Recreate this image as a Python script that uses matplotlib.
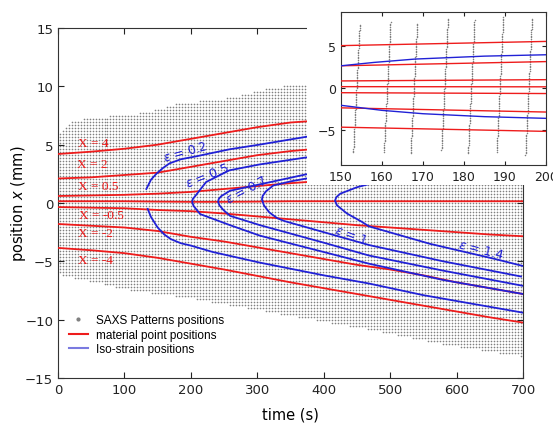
import numpy as np
import matplotlib
matplotlib.use("Agg")
import matplotlib.pyplot as plt
from matplotlib.patches import Rectangle
from matplotlib.lines import Line2D

# --- data ---
t_knots = [0, 50, 100, 150, 200, 250, 300, 350, 400, 450, 500, 550, 600, 650, 700]

# material point positions (mm) at t_knots
X_labels = ["4", "2", "0.5", "-0.5", "-2", "-4"]
X_4 = [4.2, 4.4, 4.65, 5.0, 5.5, 6.0, 6.5, 6.9, 7.1, 7.4, 7.7, 8.0, 8.3, 8.6, 8.9]
X_2 = [2.1, 2.2, 2.4, 2.6, 3.1, 3.6, 4.1, 4.45, 4.7, 5.0, 5.3, 5.5, 5.8, 6.0, 6.3]
X_05 = [0.6, 0.65, 0.7, 0.8, 0.95, 1.2, 1.45, 1.7, 1.9, 2.1, 2.3, 2.45, 2.6, 2.75, 2.9]
X_0 = [0.15, 0.15, 0.15, 0.12, 0.1, 0.1, 0.12, 0.15, 0.15, 0.15, 0.15, 0.15, 0.15, 0.15, 0.15]
X_m05 = [-0.35, -0.4, -0.45, -0.6, -0.7, -0.9, -1.15, -1.4, -1.65, -1.9, -2.1, -2.3, -2.5, -2.7, -2.85]
X_m2 = [-1.8, -1.95, -2.1, -2.4, -2.9, -3.3, -3.8, -4.3, -4.8, -5.3, -5.7, -6.2, -6.8, -7.3, -7.8]
X_m4 = [-3.85, -4.05, -4.3, -4.7, -5.2, -5.7, -6.25, -6.8, -7.3, -7.8, -8.3, -8.8, -9.3, -9.8, -10.25]

# iso-strain contours (time, position)
eps02_up_t = [133, 140, 148, 158, 168, 185, 208, 258, 303, 408, 500, 600, 700]
eps02_up_x = [1.2, 2.0, 2.5, 3.0, 3.4, 3.75, 4.0, 4.6, 5.0, 6.0, 6.7, 7.3, 7.9]
eps02_lo_t = [135, 140, 150, 160, 170, 185, 200, 233, 303, 400, 468, 550, 620, 700]
eps02_lo_x = [-0.5, -1.2, -2.1, -2.7, -3.1, -3.45, -3.65, -4.2, -5.1, -6.2, -6.9, -7.9, -8.6, -9.4]
eps05_t = [700, 550, 450, 373, 303, 258, 223, 208, 203, 202, 204, 214, 259, 304, 400, 468, 580, 700]
eps05_x = [5.8, 5.0, 4.4, 3.9, 3.3, 2.8, 1.8, 0.7, 0.35, 0.1, -0.25, -0.95, -1.9, -2.8, -4.2, -5.2, -6.6, -7.8]
eps07_t = [700, 550, 450, 373, 304, 259, 246, 242, 241, 243, 249, 259, 304, 400, 468, 580, 700]
eps07_x = [4.5, 3.7, 3.0, 2.45, 1.6, 1.05, 0.6, 0.35, 0.1, -0.2, -0.6, -1.1, -1.9, -3.4, -4.5, -5.8, -7.1]
eps1_t = [700, 550, 450, 374, 350, 324, 313, 308, 307, 310, 318, 330, 341, 400, 468, 580, 697]
eps1_x = [4.0, 3.2, 2.6, 2.1, 1.85, 1.5, 1.0, 0.6, 0.3, -0.2, -0.8, -1.3, -1.55, -2.5, -3.6, -5.0, -6.3]
eps14_t = [700, 600, 500, 480, 450, 425, 419, 417, 420, 435, 457, 468, 560, 658, 700]
eps14_x = [3.4, 2.8, 2.1, 1.8, 1.35, 0.8, 0.5, 0.2, -0.2, -0.9, -1.6, -2.0, -3.5, -4.8, -5.4]

# SAXS scan grid envelope (main view)
top_t = [0, 20, 50, 105, 145, 180, 265, 315, 360, 700]
top_x = [6.1, 7.0, 7.4, 7.6, 8.0, 8.6, 9.1, 9.9, 10.2, 10.2]
bot_t = [0, 108, 208, 298, 468, 592, 700]
bot_x = [-6.1, -7.4, -8.2, -9.1, -10.8, -12.2, -13.1]

# SAXS scan columns seen in the zoom (start time, bottom, top)
scan_t0 = [153.0, 160.5, 167.0, 174.5, 181.0, 188.0, 195.0]
scan_bot = [-7.7, -7.6, -7.8, -7.4, -7.8, -7.6, -8.0]
scan_top = [7.7, 7.9, 7.8, 8.4, 8.2, 8.6, 8.3]

RED = "#ee1c1c"
BLUE = "#2121d6"
GREY = "#808080"

fig = plt.figure(figsize=(5.53, 4.31), dpi=100)
ax = fig.add_axes([58 / 553, 1 - 379 / 431, 465 / 553, 350 / 431])

# scan grid dots (about 3 px apart)
cols = np.arange(2.26, 700, 4.516)
rows = np.arange(-15 + 0.1286, 11.0, 0.2571)
tt, xx = np.meshgrid(cols, rows)
tops = np.interp(cols, top_t, top_x, left=top_x[0])
bots = np.interp(cols, bot_t, bot_x)
mask = (xx <= tops[None, :]) & (xx >= bots[None, :])
ax.scatter(tt[mask], xx[mask], s=1.4, c=GREY, marker="o", linewidths=0, zorder=1)

red_lines = [X_4, X_2, X_05, X_0, X_m05, X_m2, X_m4]
for xs in red_lines:
    ax.plot(t_knots, xs, color=RED, lw=1.3, zorder=3)

blue_curves = [(eps02_up_t, eps02_up_x), (eps02_lo_t, eps02_lo_x), (eps05_t, eps05_x),
               (eps07_t, eps07_x), (eps1_t, eps1_x), (eps14_t, eps14_x)]
for ts, xs in blue_curves:
    ax.plot(ts, xs, color=BLUE, lw=1.3, zorder=3)

# labels on the material lines
lab_pos = [(53, 5.1), (52, 3.3), (60, 1.45), (65, -1.0), (56, -2.6), (56, -4.9)]
for lab, (t, x) in zip(X_labels, lab_pos):
    ax.text(t, x, "X = " + lab, color=RED, fontsize=9.5, ha="center", va="center",
            family="Liberation Serif", zorder=4)

eps_labels = [("0.2", 191, 4.45, 16), ("0.5", 225, 2.35, 22), ("0.7", 283, 1.15, 28),
              ("1", 441, -2.7, -20), ("1.4", 636, -4.0, -14)]
for lab, t, x, rot in eps_labels:
    ax.text(t, x, r"$\varepsilon$ = " + lab, color=BLUE, fontsize=9, ha="center",
            va="center", rotation=rot, zorder=4)

ax.set_xlim(0, 700)
ax.set_ylim(-15, 15)
ax.set_xticks(range(0, 701, 100))
ax.set_yticks(range(-15, 16, 5))
ax.tick_params(direction="in", top=True, right=True, length=4, labelsize=9.5,
               colors="#222222")
for sp in ax.spines.values():
    sp.set_color("#333333")
ax.set_xlabel("time (s)", fontsize=10.5, labelpad=8)
ax.set_ylabel("position $x$ (mm)", fontsize=10.5, labelpad=-2)

handles = [Line2D([], [], ls="none", marker="o", ms=2, color=GREY),
           Line2D([], [], color=RED, lw=1.5),
           Line2D([], [], color="#7a7ae0", lw=1.5)]
ax.legend(handles, ["SAXS Patterns positions", "material point positions",
                    "Iso-strain positions"],
          loc="lower left", bbox_to_anchor=(0.0, 0.035), frameon=False,
          prop={"family": "Liberation Sans", "size": 8.5},
          handlelength=1.6, handletextpad=0.7, labelspacing=0.2)

# white block behind the zoomed view
fig.add_artist(Rectangle((307 / 553, 1 - 186 / 431), 1, 1, transform=fig.transFigure,
                         facecolor="white", edgecolor="none", zorder=1))

# zoomed view
ins = fig.add_axes([341 / 553, 1 - 166 / 431, 205 / 553, 153 / 431], zorder=2)
for t0, b, tp in zip(scan_t0, scan_bot, scan_top):
    xs = np.arange(b, tp, 0.2)
    ts = t0 + 1.6 * (xs - b) / (tp - b)
    ins.scatter(ts, xs, s=1.2, c=GREY, marker="o", linewidths=0, zorder=1)
for xs in red_lines:
    ins.plot(t_knots, xs, color=RED, lw=1.0, zorder=3)
ins.plot(eps02_up_t, eps02_up_x, color=BLUE, lw=1.0, zorder=3)
ins.plot(eps02_lo_t, eps02_lo_x, color=BLUE, lw=1.0, zorder=3)
ins.set_xlim(150, 200)
ins.set_ylim(-9.2, 9.0)
ins.set_xticks(range(150, 201, 10))
ins.set_yticks([-5, 0, 5])
ins.tick_params(direction="in", top=True, right=True, length=3, labelsize=9,
                colors="#222222")
for sp in ins.spines.values():
    sp.set_color("#333333")

fig.savefig("out.png", dpi=100)
